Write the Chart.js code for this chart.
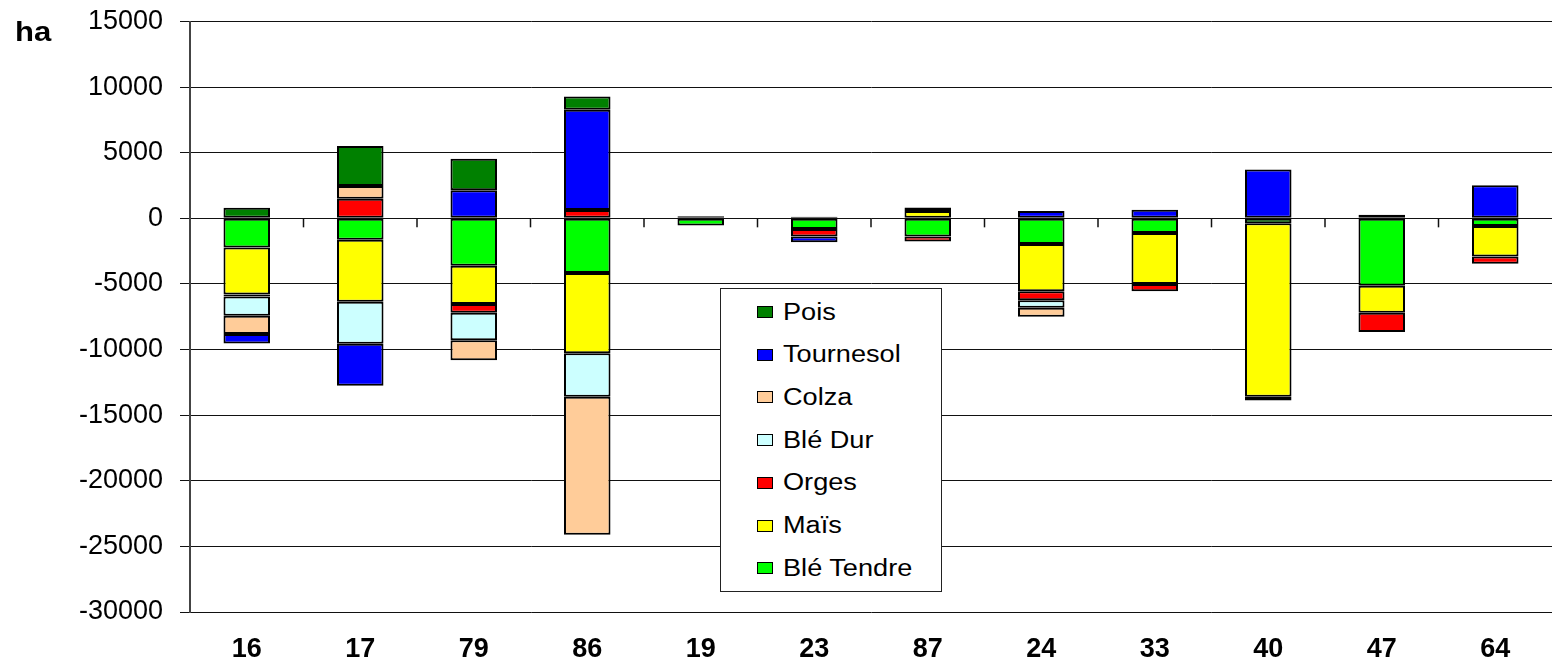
<!DOCTYPE html>
<html>
<head>
<meta charset="utf-8">
<script src="https://cdn.jsdelivr.net/npm/chart.js@4.4.0/dist/chart.umd.min.js"></script>
<style>
  html, body { margin: 0; padding: 0; background: #fff; }
  #wrap { position: relative; width: 1552px; height: 659px; font-family: 'Liberation Sans', Arial, sans-serif; }
  #unit { position: absolute; left: 15px; top: 17px; font-weight: bold; font-size: 27px; transform: scaleX(1.15); transform-origin: left; }
  #legend { position: absolute; left: 720px; top: 288px; width: 222px; height: 304px; border: 1px solid #222; background: #fff; box-sizing: border-box; }
  .item { position: absolute; left: 36px; height: 28px; display: flex; align-items: center; }
  .sw { width: 14px; height: 10px; border: 1px solid #000; margin-right: 10px; }
  .lbl { font-size: 23px; display: inline-block; transform: scaleX(1.18); transform-origin: left; white-space: nowrap; }
</style>
</head>
<body>
<div id="wrap">
  <canvas id="chart"></canvas>
  <div id="unit">ha</div>
  <div id="legend"></div>
</div>
<script>
// Categories (départements) and series, hectares
const categories = ['16', '17', '79', '86', '19', '23', '87', '24', '33', '40', '47', '64'];

const bleTendre = [-2230, -1640, -3610, -4170, -550, -810, -1390, -1950, -1110, -380, -5130, -580];
const mais      = [-3580, -4720, -2910, -6110, 0, 0, 550, -3610, -3890, -13210, -2070, -2330];
const orges     = [-150, 1500, -680, 630, 0, -580, -380, -680, -560, -300, -1470, -550];
const bleDur    = [-1470, -3190, -2100, -3310, 0, 0, 0, -580, 0, 0, 0, 0];
const colza     = [-1390, 960, -1510, -10530, 0, 0, 280, -680, 0, 0, 0, 0];
const tournesol = [-710, -3210, 2140, 7650, 0, -430, 0, 550, 650, 3730, 0, 2520];
const pois      = [800, 3050, 2400, 1010, 150, 120, 0, 0, 0, 0, 280, 0];

const yTicks = [15000, 10000, 5000, 0, -5000, -10000, -15000, -20000, -25000, -30000];

const FONT = "'Liberation Sans', Arial, sans-serif";

const series = [
  { label: 'Blé Tendre', data: bleTendre, color: '#00FF00' },
  { label: 'Maïs',       data: mais,      color: '#FFFF00' },
  { label: 'Orges',      data: orges,     color: '#FF0000' },
  { label: 'Blé Dur',    data: bleDur,    color: '#CCFFFF' },
  { label: 'Colza',      data: colza,     color: '#FFCC99' },
  { label: 'Tournesol',  data: tournesol, color: '#0000FF' },
  { label: 'Pois',       data: pois,      color: '#008000' }
];

// small tick marks on the zero line between categories
const zeroTicks = {
  id: 'zeroTicks',
  afterDatasetsDraw(chart) {
    const { ctx, scales: { x, y } } = chart;
    const y0 = y.getPixelForValue(0);
    ctx.save();
    ctx.strokeStyle = '#111';
    ctx.lineWidth = 1.5;
    for (let i = 1; i < categories.length; i++) {
      const xp = (x.getPixelForValue(i - 1) + x.getPixelForValue(i)) / 2;
      ctx.beginPath();
      ctx.moveTo(xp, y0);
      ctx.lineTo(xp, y0 + 9);
      ctx.stroke();
    }
    ctx.restore();
  }
};

new Chart(document.getElementById('chart'), {
  type: 'bar',
  data: {
    labels: categories,
    datasets: series.map(s => ({
      label: s.label,
      data: s.data,
      backgroundColor: s.color,
      borderColor: '#000',
      borderWidth: 2,
      borderSkipped: false,
      barPercentage: 0.41,
      categoryPercentage: 1
    }))
  },
  options: {
    responsive: true,
    maintainAspectRatio: false,
    animation: false,
    layout: { padding: { top: 21.5, right: 0, left: 0, bottom: 0 } },
    plugins: { legend: { display: false }, tooltip: { enabled: false } },
    scales: {
      x: {
        stacked: true,
        grid: { display: false },
        border: { display: false },
        ticks: { color: '#000', font: { family: FONT, size: 27, weight: 'bold' }, padding: 13 },
        afterFit: s => { s.height = 47; s.paddingLeft = 0; s.paddingRight = 0; }
      },
      y: {
        stacked: true,
        min: -30000,
        max: 15000,
        afterBuildTicks: s => { s.ticks = yTicks.map(v => ({ value: v })); },
        grid: { color: '#111', lineWidth: 1, tickLength: 10 },
        border: { color: '#444', width: 2 },
        ticks: { color: '#000', font: { family: FONT, size: 27 }, padding: 17, callback: v => String(v) },
        afterFit: s => { s.width = 190; s.paddingTop = 0; s.paddingBottom = 0; }
      }
    }
  },
  plugins: [zeroTicks]
});

// legend, top to bottom in reverse stacking order
const legend = document.getElementById('legend');
series.slice().reverse().forEach((s, i) => {
  const it = document.createElement('div');
  it.className = 'item';
  it.style.top = (9 + i * 42.7) + 'px';
  it.innerHTML = `<span class="sw" style="background:${s.color}"></span><span class="lbl">${s.label}</span>`;
  legend.appendChild(it);
});
</script>
</body>
</html>
